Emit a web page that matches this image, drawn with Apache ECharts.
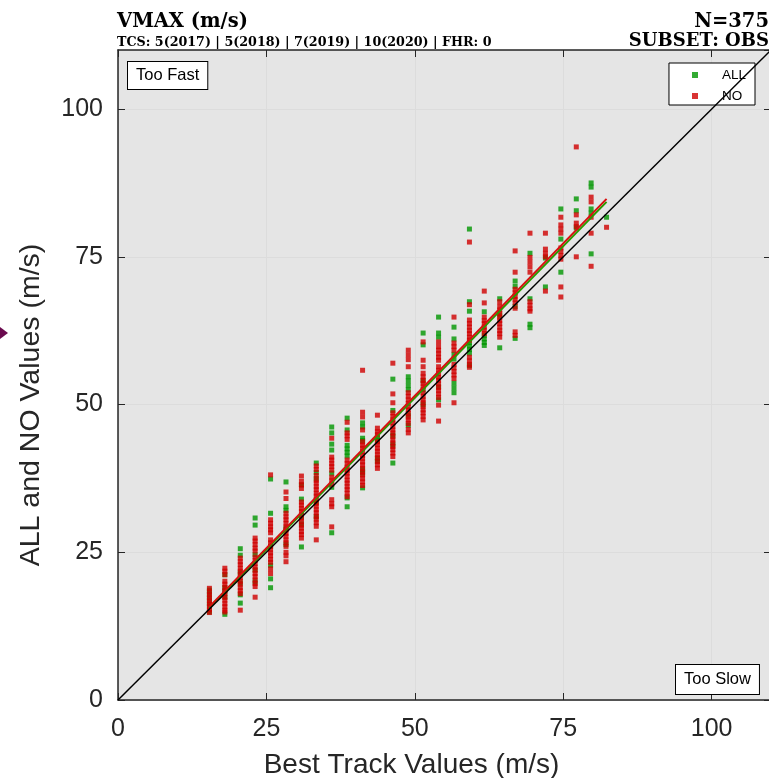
<!DOCTYPE html>
<html>
<head>
<meta charset="utf-8">
<script src="https://cdn.jsdelivr.net/npm/echarts@6/dist/echarts.min.js"></script>
<style>
  html, body { margin: 0; padding: 0; background: #fff; }
  #chart { width: 769px; height: 778px; }
</style>
</head>
<body>
<div id="chart"></div>
<script>
// Best-track intensity bins (m/s), one column of points per bin
const bestTrack = [15.4, 18.0, 20.6, 23.1, 25.7, 28.3, 30.9, 33.4, 36.0, 38.6, 41.2, 43.7, 46.3, 48.9,
                   51.4, 54.0, 56.6, 59.2, 61.7, 64.3, 66.9, 69.4, 72.0, 74.6, 77.2, 79.7, 82.3];

// "ALL" experiment VMAX values for each best-track bin
const allValues = [
  [14.9, 16.2, 17.1, 17.9, 18.6],
  [14.5, 17.4, 18.3, 19.0, 21.2],
  [25.6, 24.5, 21.5, 19.8, 17.8, 16.4],
  [30.8, 29.6, 24.6, 22.0, 20.0],
  [37.4, 31.6, 26.0, 22.8, 20.5, 19.0],
  [36.9, 32.7, 32.1, 29.0, 26.3],
  [36.4, 34.0, 31.0, 29.8, 25.9],
  [40.1, 38.5, 37.5, 33.5, 31.0],
  [46.2, 45.2, 43.3, 42.3, 38.4, 36.0, 28.3],
  [47.7, 45.7, 43.1, 42.5, 41.9, 41.3, 34.2, 32.7],
  [46.9, 46.2, 44.3, 43.9, 39.0, 38.4, 35.9],
  [44.5, 44.0, 40.9, 40.4],
  [54.3, 49.0, 44.8, 43.2, 40.1],
  [54.7, 54.0, 53.2, 52.5, 48.2, 46.5],
  [62.1, 60.1, 54.0, 52.5, 50.0],
  [64.8, 62.1, 61.4, 53.0, 50.8],
  [63.1, 61.1, 58.5, 57.7, 53.6, 52.8, 52.0],
  [79.7, 67.4, 65.8, 60.5, 59.9, 59.3, 58.7, 56.6],
  [65.7, 61.7, 61.1, 60.5, 60.0],
  [67.9, 65.1, 59.6],
  [70.9, 70.0, 66.6, 61.2],
  [75.6, 67.9, 63.6, 63.0],
  [74.8, 69.9],
  [83.1, 78.0, 72.4],
  [84.8, 82.8, 79.9],
  [87.5, 86.8, 83.1, 82.4, 75.5],
  [81.7]
];

// "NO" experiment VMAX values for each best-track bin
const noValues = [
  [14.8, 15.3, 15.8, 16.3, 16.8, 17.3, 17.8, 18.3, 18.9],
  [22.3, 21.8, 21.2, 20.1, 19.6, 19.0, 18.5, 18.0, 17.4, 16.9, 16.3, 15.8, 15.2, 14.9],
  [24.0, 23.4, 22.9, 22.3, 21.8, 21.2, 20.7, 20.1, 19.6, 19.0, 18.5, 18.0, 15.2],
  [27.4, 26.9, 26.3, 25.7, 25.2, 24.2, 23.6, 23.1, 22.5, 22.0, 21.4, 20.9, 20.3, 19.7, 19.2, 17.4],
  [38.1, 30.5, 29.9, 29.3, 28.8, 28.3, 27.1, 26.6, 26.0, 25.5, 24.9, 24.4, 23.8, 23.3, 22.2, 21.4],
  [35.2, 34.1, 31.6, 31.0, 30.5, 29.9, 29.3, 28.8, 28.2, 27.7, 27.1, 26.6, 26.0, 25.0, 24.4, 23.4],
  [37.9, 37.0, 36.4, 35.8, 33.5, 33.0, 32.4, 31.9, 31.3, 30.8, 30.2, 29.6, 29.1, 28.5, 28.0, 27.4],
  [39.6, 39.0, 38.0, 37.2, 36.7, 36.1, 35.6, 35.0, 34.5, 33.9, 33.3, 32.8, 32.2, 31.7, 31.1, 30.6, 30.0, 29.4, 27.1],
  [44.3, 41.1, 40.6, 40.0, 39.5, 38.9, 37.7, 37.1, 36.5, 33.9, 33.2, 32.7, 29.3],
  [47.0, 45.2, 44.7, 44.1, 40.6, 40.0, 39.4, 38.9, 38.4, 37.8, 37.2, 36.7, 36.1, 35.6, 35.0, 34.4],
  [55.8, 48.7, 47.9, 45.7, 43.7, 43.1, 42.6, 42.0, 41.4, 40.9, 40.3, 39.8, 39.2, 38.6, 38.1, 37.5, 36.9, 36.3],
  [48.2, 46.0, 45.4, 44.9, 43.7, 43.2, 42.6, 42.1, 41.5, 41.0, 40.4, 39.8, 39.2],
  [57.0, 51.8, 50.3, 48.6, 48.0, 47.4, 46.9, 46.3, 45.7, 45.2, 44.6, 44.0, 43.5, 42.9, 42.4, 41.8, 41.2],
  [59.2, 58.4, 57.6, 56.4, 52.0, 51.4, 50.8, 50.2, 49.6, 49.1, 48.5, 47.9, 47.4, 46.8, 45.8, 45.2],
  [60.6, 57.5, 56.4, 55.3, 54.7, 54.1, 53.6, 53.0, 52.0, 51.4, 50.8, 50.3, 49.7, 49.1, 48.6, 48.0, 47.4],
  [60.6, 59.8, 59.2, 58.6, 58.0, 57.5, 56.4, 55.8, 55.2, 54.6, 54.1, 53.5, 52.9, 52.4, 51.8, 51.2, 49.9, 47.2],
  [64.8, 60.4, 59.8, 59.2, 56.8, 56.2, 55.6, 55.0, 54.4, 50.3],
  [77.5, 66.9, 64.3, 63.7, 63.1, 62.5, 62.0, 61.4, 60.9, 58.0, 57.4, 56.8, 56.3],
  [69.2, 67.2, 64.8, 64.2, 63.7, 63.1, 62.6, 62.0],
  [67.4, 66.6, 66.0, 65.4, 64.8, 64.2, 63.7, 63.1, 62.5, 62.0, 61.4],
  [76.0, 72.4, 69.5, 68.9, 68.3, 67.8, 67.2, 66.3, 62.3, 61.7],
  [79.0, 74.9, 74.1, 73.3, 72.4, 67.4, 66.8, 66.2, 65.8],
  [79.0, 76.3, 75.6, 75.0, 69.2],
  [81.7, 80.4, 79.7, 79.0, 76.5, 75.9, 75.2, 74.6, 69.9, 68.2],
  [93.6, 82.1, 80.7, 80.1, 75.0],
  [85.1, 84.3, 81.7, 79.0, 73.4],
  [80.0]
];

// Least-squares fit end points and the 1:1 reference line
const allFit = [[15.4, 15.6], [82.3, 84.3]];
const noFit = [[15.4, 15.8], [82.3, 84.8]];
const oneToOne = [[0, 0], [110, 110]];

const tickLabels = ['0', '25', '50', '75', '100'];

const titleText = 'VMAX (m/s)';
const subTitleText = 'TCS: 5(2017) | 5(2018) | 7(2019) | 10(2020) | FHR: 0';
const countText = 'N=375';
const subsetText = 'SUBSET: OBS';

function toPoints(cols) {
  const pts = [];
  cols.forEach((vals, i) => vals.forEach(v => pts.push([bestTrack[i], v])));
  return pts;
}

const AX = '#262626';
const SANS = 'Liberation Sans, Arial, Helvetica, sans-serif';
const SERIF = 'DejaVu Serif, serif';

const tickFmt = v => (tickLabels.indexOf(String(v)) >= 0 ? String(v) : '');

const baseAxis = {
  type: 'value', min: 0, max: 110, interval: 25,
  axisLine: { show: true, onZero: false, lineStyle: { color: AX, width: 1.5 } },
  axisTick: { show: true, inside: true, length: 7, lineStyle: { color: AX, width: 1 } },
  splitLine: { show: false }
};

const chart = echarts.init(document.getElementById('chart'), null, { renderer: 'canvas' });

chart.setOption({
  animation: false,
  backgroundColor: '#ffffff',
  title: [
    {
      text: titleText, subtext: subTitleText, left: 117, top: 12, padding: 0, itemGap: 4,
      textStyle: { fontFamily: SERIF, fontWeight: 'bold', fontSize: 19.5, color: '#000' },
      subtextStyle: { fontFamily: SERIF, fontWeight: 'bold', fontSize: 12.7, color: '#000' }
    },
    {
      text: countText, subtext: subsetText, left: 'right', top: 12, padding: 0, itemGap: 0,
      textStyle: { fontFamily: SERIF, fontWeight: 'bold', fontSize: 19.5, color: '#000' },
      subtextStyle: { fontFamily: SERIF, fontWeight: 'bold', fontSize: 18, color: '#000' }
    }
  ],
  legend: {
    data: ['ALL', 'NO'],
    orient: 'vertical',
    right: 14, top: 63,
    itemWidth: 6, itemHeight: 6, itemGap: 7,
    icon: 'rect',
    selectedMode: false,
    backgroundColor: '#ffffff',
    borderColor: '#000', borderWidth: 1,
    padding: [5, 9, 2, 23],
    textStyle: { fontFamily: SANS, fontSize: 13.5, color: '#000', lineHeight: 14, padding: [0, 0, 0, 19] }
  },
  grid: {
    left: 118, top: 50, width: 653, height: 650,
    outerBoundsMode: 'none', containLabel: false,
    show: true, backgroundColor: '#e5e5e5', borderWidth: 0
  },
  xAxis: [
    Object.assign({}, baseAxis, {
      position: 'bottom',
      name: 'Best Track Values (m/s)', nameLocation: 'middle', nameGap: 51,
      nameTextStyle: { fontFamily: SANS, fontSize: 28, color: AX, padding: [0, 66, 0, 0] },
      axisLabel: { show: true, margin: 17, fontFamily: SANS, fontSize: 25, color: AX, formatter: tickFmt, showMaxLabel: false },
      splitLine: { show: true, lineStyle: { color: '#dcdcdc', width: 1 } }
    }),
    Object.assign({}, baseAxis, { position: 'top', axisLabel: { show: false } })
  ],
  yAxis: [
    Object.assign({}, baseAxis, {
      position: 'left',
      name: 'ALL and NO Values (m/s)', nameLocation: 'middle', nameGap: 72,
      nameTextStyle: { fontFamily: SANS, fontSize: 28.5, color: AX, padding: [0, 60, 0, 0] },
      axisLabel: { show: true, margin: 15, fontFamily: SANS, fontSize: 25, color: AX, formatter: tickFmt, showMaxLabel: false },
      splitLine: { show: true, lineStyle: { color: '#dcdcdc', width: 1 } }
    }),
    Object.assign({}, baseAxis, { position: 'right', axisLabel: { show: false } })
  ],
  series: [
    {
      name: 'ALL', type: 'scatter', data: toPoints(allValues),
      symbol: 'rect', symbolSize: 5,
      itemStyle: { color: '#009600' }, z: 2
    },
    {
      name: 'NO', type: 'scatter', data: toPoints(noValues),
      symbol: 'rect', symbolSize: 5,
      itemStyle: { color: '#d00000' }, z: 3
    },
    {
      name: 'ALL fit', type: 'line', data: allFit, symbol: 'none',
      lineStyle: { color: '#2a9a00', width: 2 }, z: 4
    },
    {
      name: 'NO fit', type: 'line', data: noFit, symbol: 'none',
      lineStyle: { color: '#d81010', width: 2 }, z: 5
    },
    {
      name: '1:1', type: 'line', data: oneToOne, symbol: 'none',
      lineStyle: { color: '#000', width: 1.5 }, z: 6
    }
  ],
  graphic: [
    {
      type: 'text', left: 127, top: 61, z: 10,
      style: {
        text: 'Too Fast', font: '16.5px ' + SANS, fill: '#000',
        backgroundColor: '#fff', borderColor: '#000', borderWidth: 1, padding: [5, 8, 5, 8]
      }
    },
    {
      type: 'text', left: 675, top: 664, z: 10,
      style: {
        text: 'Too Slow', font: '16.5px ' + SANS, fill: '#000',
        backgroundColor: '#fff', borderColor: '#000', borderWidth: 1, padding: [6, 8, 6, 8]
      }
    },
    {
      type: 'polygon', z: 10,
      shape: { points: [[0, 327], [8, 333], [0, 339]] },
      style: { fill: '#6a0a4e' }
    }
  ]
});
</script>
</body>
</html>
